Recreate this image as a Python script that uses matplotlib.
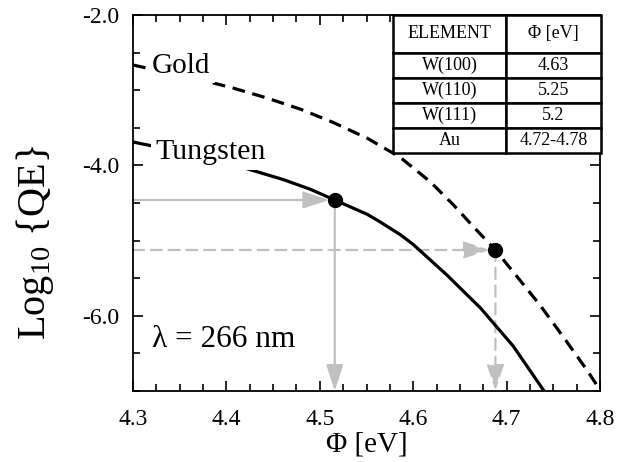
import numpy as np
import matplotlib
matplotlib.use("Agg")
import matplotlib.pyplot as plt
from matplotlib.ticker import MultipleLocator, FormatStrFormatter

plt.rcParams['font.family'] = ['Liberation Serif', 'DejaVu Serif']
plt.rcParams['mathtext.default'] = 'regular'

# Work function (eV) vs log10 quantum efficiency at 266 nm
gold_phi = [4.300, 4.379, 4.407, 4.443, 4.479, 4.514, 4.551, 4.578, 4.589,
            4.618, 4.643, 4.664, 4.688, 4.711, 4.736, 4.760, 4.786, 4.800]
gold_logqe = [-2.665, -2.882, -2.971, -3.102, -3.251, -3.427, -3.640, -3.834,
              -3.922, -4.215, -4.524, -4.809, -5.125, -5.476, -5.862, -6.269,
              -6.721, -6.987]

tungsten_phi = [4.300, 4.321, 4.418, 4.461, 4.490, 4.516, 4.551, 4.564, 4.586,
                4.600, 4.636, 4.672, 4.707, 4.739]
tungsten_logqe = [-3.689, -3.742, -4.029, -4.189, -4.318, -4.460, -4.652,
                  -4.747, -4.920, -5.051, -5.457, -5.896, -6.402, -6.980]

# marked operating points
w_point = (4.516, -4.46)
au_point = (4.688, -5.125)

table_rows = [["ELEMENT", "Φ [eV]"],
              ["W(100)", "4.63"],
              ["W(110)", "5.25"],
              ["W(111)", "5.2"],
              ["Au", "4.72-4.78"]]

xmin, xmax = 4.3, 4.8
ymin, ymax = -7.0, -2.0

fig = plt.figure(figsize=(6.21, 4.62), dpi=100)
ax = fig.add_axes([0.2142, 0.1537, 0.752, 0.8138])

ax.plot(gold_phi, gold_logqe, color='black', lw=2.3, ls=(0, (4, 2.4)),
        solid_joinstyle='round', zorder=3)
ax.plot(tungsten_phi, tungsten_logqe, color='black', lw=2.3,
        solid_joinstyle='round', zorder=3)

grey = '#c0c0c0'
head = '-|>,head_length=0.8,head_width=0.26'
solid_arrow = dict(arrowstyle=head, color=grey, lw=1.6, mutation_scale=20)
dashed_arrow = dict(arrowstyle=head, color=grey, lw=1.6, mutation_scale=20,
                    ls=(0, (5, 3)))

# guide arrows: W dot solid, Au dot dashed
ax.annotate('', xy=w_point, xytext=(xmin, w_point[1]),
            arrowprops=dict(solid_arrow, shrinkA=0, shrinkB=4), zorder=2)
ax.annotate('', xy=(w_point[0], ymin), xytext=w_point,
            arrowprops=dict(solid_arrow, shrinkA=0, shrinkB=0), zorder=2)
ax.annotate('', xy=au_point, xytext=(xmin, au_point[1]),
            arrowprops=dict(dashed_arrow, shrinkA=0, shrinkB=4), zorder=2)
ax.annotate('', xy=(au_point[0], ymin), xytext=au_point,
            arrowprops=dict(dashed_arrow, shrinkA=0, shrinkB=0), zorder=2)

ax.plot(*w_point, 'o', color='black', ms=10, zorder=4)
ax.plot(*au_point, 'o', color='black', ms=10, zorder=4)

label_box = dict(facecolor='white', edgecolor='none', pad=3)
ax.text(4.3205, -2.77, 'Gold', fontsize=21, ha='left', va='baseline',
        bbox=label_box, zorder=5)
ax.text(4.324, -3.92, 'Tungsten', fontsize=21.5, ha='left', va='baseline',
        bbox=label_box, zorder=5)
ax.text(4.32, -6.42, 'λ = 266 nm', fontsize=22.5, ha='left', va='baseline',
        zorder=5)

tbl = ax.table(cellText=table_rows, cellLoc='center',
               colWidths=[0.543, 0.457],
               bbox=[0.557, 0.633, 0.445, 0.367], zorder=6)
tbl.auto_set_font_size(False)
for (r, c), cell in tbl.get_celld().items():
    cell.set_linewidth(1.8)
    cell.set_facecolor('white')
    cell.get_text().set_fontsize(13)
    cell.set_height(0.1 if r == 0 else 0.067)

ax.set_xlim(xmin, xmax)
ax.set_ylim(ymin, ymax)
ax.xaxis.set_major_locator(MultipleLocator(0.1))
ax.xaxis.set_minor_locator(MultipleLocator(0.025))
ax.yaxis.set_major_locator(MultipleLocator(2.0))
ax.yaxis.set_minor_locator(MultipleLocator(0.5))
ax.xaxis.set_major_formatter(FormatStrFormatter('%.1f'))
ax.yaxis.set_major_formatter(FormatStrFormatter('%.1f'))
ax.tick_params(which='both', direction='in', top=True, right=True, width=1.2)
ax.tick_params(which='major', length=7, labelsize=17)
ax.tick_params(axis='x', which='major', pad=13)
ax.tick_params(axis='y', which='major', pad=10)
ax.tick_params(which='minor', length=5)
for s in ax.spines.values():
    s.set_linewidth(1.3)

ax.set_xlabel('Φ [eV]', fontsize=21, labelpad=1)
ax.set_ylabel(r'Log$_{10}$ {QE}', fontsize=29, va='center')
ax.yaxis.set_label_coords(-0.21, 0.396)

fig.savefig('out.png', dpi=100)
